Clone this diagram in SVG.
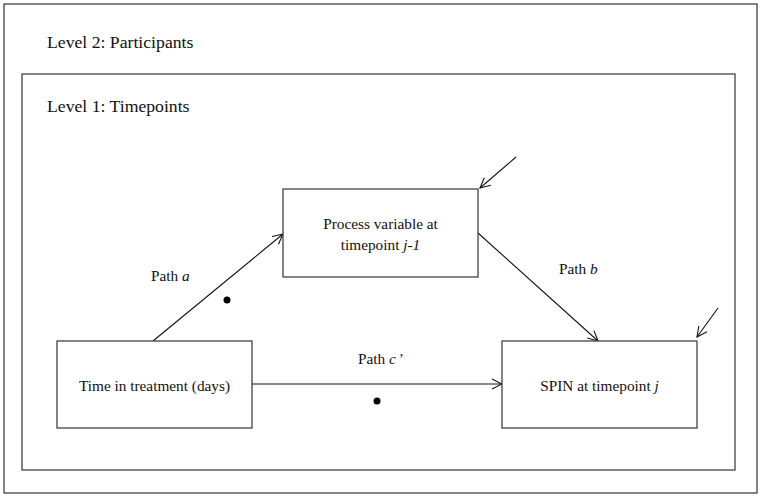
<svg xmlns="http://www.w3.org/2000/svg" width="762" height="498" viewBox="0 0 762 498">
<style>
text{font-family:"Liberation Serif","Times New Roman",serif;font-size:15.3px;fill:#111}
.lvl{font-size:17.7px}
.box{fill:#fff;stroke:#444;stroke-width:1.3}
.frame{fill:none;stroke:#333;stroke-width:1.2}
.c{stroke:#111;stroke-width:1.1;fill:none;marker-end:url(#ah)}
</style>
<defs>
<marker id="ah" viewBox="0 0 12 12" refX="11" refY="6" markerWidth="12" markerHeight="12" markerUnits="userSpaceOnUse" orient="auto">
<path d="M1,1 L11,6 L1,11" fill="none" stroke="#111" stroke-width="1.1"/>
</marker>
</defs>
<rect class="frame" x="4" y="4" width="753" height="489"/>
<rect class="frame" x="22" y="74" width="713" height="396"/>
<text class="lvl" x="47" y="48">Level 2: Participants</text>
<text class="lvl" x="47" y="112">Level 1: Timepoints</text>
<g id="connectors">
<line class="c" x1="153" y1="341" x2="283" y2="234"/>
<line class="c" x1="478" y1="233" x2="598" y2="341"/>
<line class="c" x1="252" y1="384" x2="502" y2="384"/>
<line class="c" x1="516" y1="157" x2="480" y2="188"/>
<line class="c" x1="718" y1="308" x2="697" y2="337"/>
<text x="151" y="281">Path <tspan font-style="italic">a</tspan></text>
<text x="559" y="274">Path <tspan font-style="italic">b</tspan></text>
<text x="358" y="364">Path <tspan font-style="italic">c<tspan dx="2">’</tspan></tspan></text>
<circle cx="227" cy="300" r="3.5" fill="#000"/>
<circle cx="377" cy="401" r="3.5" fill="#000"/>
</g>
<g id="process">
<rect class="box" x="283" y="189" width="195" height="88"/>
<text x="380.5" y="229" text-anchor="middle">Process variable at</text>
<text x="380.5" y="250" text-anchor="middle">timepoint <tspan font-style="italic">j-1</tspan></text>
</g>
<g id="time">
<rect class="box" x="57" y="341" width="195" height="87"/>
<text x="154.5" y="391" text-anchor="middle">Time in treatment (days)</text>
</g>
<g id="spin">
<rect class="box" x="502" y="341" width="195" height="87"/>
<text x="599.5" y="391" text-anchor="middle">SPIN at timepoint <tspan font-style="italic">j</tspan></text>
</g>
</svg>
